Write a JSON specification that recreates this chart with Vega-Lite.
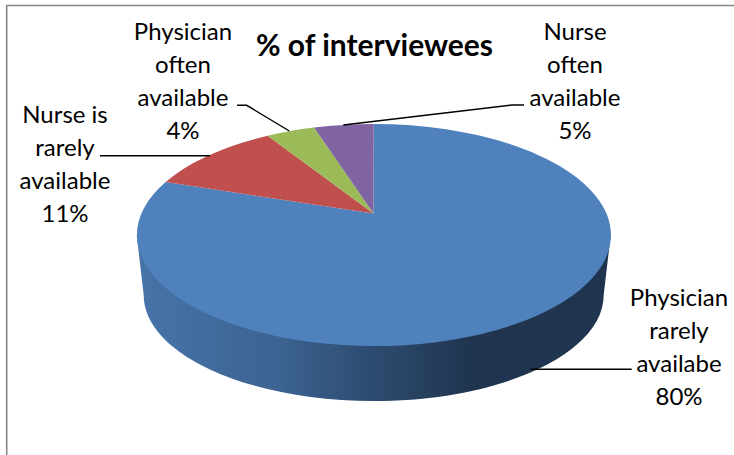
{
"$schema":"https://vega.github.io/schema/vega-lite/v6.json",
"width":734,"height":455,"padding":0,"autosize":{"type":"none"},"background":"white",
"title":{"text":"% of interviewees","font":"Lato","fontSize":30,"fontWeight":"bold","color":"#000000","anchor":"middle","baseline":"middle","offset":0,"dy":77,"dx":7.5},
"config":{"view":{"stroke":null},"font":"Lato"},
"data":{"values":[
{"category":"Physician rarely availabe","share":80,"label":"Physician\nrarely\navailabe\n80%"},
{"category":"Nurse is rarely available","share":11,"label":"Nurse is\nrarely\navailable\n11%"},
{"category":"Physician often available","share":4,"label":"Physician\noften\navailable\n4%"},
{"category":"Nurse often available","share":5,"label":"Nurse\noften\navailable\n5%"}
]},
"resolve":{"scale":{"x":"independent","y":"independent","shape":"independent","color":"independent"}},
"layer":[
{"transform":[{"filter":"datum.share==80"}],
 "mark":{"type":"point","filled":false,"size":4,"opacity":1,"stroke":"#868686","strokeWidth":1.6,"fill":"transparent"},
 "encoding":{
  "x":{"field":"share","type":"quantitative","axis":null,"scale":{"domain":[0,100],"range":[373.7,373.7],"zero":false,"nice":false}},
  "y":{"field":"share","type":"quantitative","axis":null,"scale":{"domain":[0,100],"range":[235,235],"zero":false,"nice":false}},
  "shape":{"value":"M -367 225 L -367 -229.5 L 365 -229.5"}}},
{"transform":[{"filter":"datum.share==80"}],
 "mark":{"type":"point","filled":true,"size":4,"opacity":1,"strokeWidth":0,
  "fill":{"gradient":"linear","x1":0,"x2":1,"y1":0,"y2":0,"stops":[
   {"offset":0,"color":"#4674a9"},{"offset":0.3,"color":"#3c6391"},{"offset":0.5,"color":"#2d4b70"},{"offset":0.7,"color":"#203650"},{"offset":1,"color":"#1f344e"}]}},
 "encoding":{
  "x":{"field":"share","type":"quantitative","axis":null,"scale":{"domain":[0,100],"range":[373.7,373.7],"zero":false,"nice":false}},
  "y":{"field":"share","type":"quantitative","axis":null,"scale":{"domain":[0,100],"range":[235,235],"zero":false,"nice":false}},
  "shape":{"value":"M -237 0 L -230 60 A 230 106 0 0 0 230 60 L 237 0 Z"}}},
{"mark":{"type":"point","filled":true,"size":4,"opacity":1,"strokeWidth":0},
 "encoding":{
  "x":{"field":"share","type":"quantitative","axis":null,"scale":{"domain":[0,100],"range":[373.7,373.7],"zero":false,"nice":false}},
  "y":{"field":"share","type":"quantitative","axis":null,"scale":{"domain":[0,100],"range":[235,235],"zero":false,"nice":false}},
  "color":{"field":"category","type":"nominal","legend":null,"scale":{"domain":["Physician rarely availabe","Nurse is rarely available","Physician often available","Nurse often available"],"range":["#4f81bd","#c0504d","#9bbb59","#8064a2"]}},
  "shape":{"field":"category","type":"nominal","legend":null,"scale":{"domain":["Physician rarely availabe","Nurse is rarely available","Physician often available","Nurse often available"],"range":[
   "M -0.2 -21.5 L 0 -111 A 237 111 0 1 1 -208 -53 Z",
   "M -0.2 -21.5 L -208 -53 A 237 111 0 0 1 -106 -99.3 Z",
   "M -0.2 -21.5 L -106 -99.3 A 237 111 0 0 1 -59.7 -107.5 Z",
   "M -0.2 -21.5 L -59.7 -107.5 A 237 111 0 0 1 0 -111 Z"]}}}},
{"mark":{"type":"point","filled":false,"size":4,"opacity":1,"stroke":"#000000","strokeWidth":1.4,"fill":"transparent"},
 "encoding":{
  "x":{"field":"share","type":"quantitative","axis":null,"scale":{"domain":[0,100],"range":[373.7,373.7],"zero":false,"nice":false}},
  "y":{"field":"share","type":"quantitative","axis":null,"scale":{"domain":[0,100],"range":[235,235],"zero":false,"nice":false}},
  "shape":{"field":"category","type":"nominal","legend":null,"scale":{"domain":["Physician rarely availabe","Nurse is rarely available","Physician often available","Nurse often available"],"range":[
   "M 157 134.3 L 258 134.3",
   "M -273.7 -79.3 L -163.7 -79.3",
   "M -136.7 -129.7 L -127 -129.7 L -84.4 -104",
   "M -30.4 -110 L 138 -130 L 150.3 -130"]}}}},
{"mark":{"type":"text","font":"Lato","fontSize":24,"lineHeight":33,"lineBreak":"\n","align":"center","baseline":"middle","color":"#000000"},
 "encoding":{
  "x":{"field":"share","type":"quantitative","axis":null,"scale":{"domain":[4,5,11,80],"range":[183,575,65,679],"zero":false,"nice":false}},
  "y":{"field":"share","type":"quantitative","axis":null,"scale":{"domain":[4,5,11,80],"range":[32.5,32.5,115.5,299],"zero":false,"nice":false}},
  "text":{"field":"label","type":"nominal"}}}
]}
